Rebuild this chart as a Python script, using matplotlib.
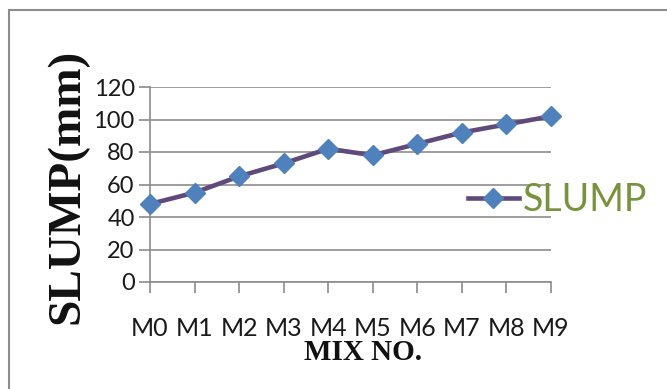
import matplotlib
matplotlib.use("Agg")
import matplotlib.pyplot as plt
from matplotlib.patches import Rectangle

categories = ["M0", "M1", "M2", "M3", "M4", "M5", "M6", "M7", "M8", "M9"]
slump = [48, 55, 65, 73, 82, 78, 85, 92, 97, 102]
yticks = [0, 20, 40, 60, 80, 100, 120]

W, H = 667, 389
fig = plt.figure(figsize=(W / 100, H / 100), dpi=100)
fig.patch.set_facecolor("white")

# outer chart frame
fig.patches.append(Rectangle((9 / W, -0.1), 1.2, 1 - 10 / H + 0.1, transform=fig.transFigure,
                             fill=False, edgecolor="#8c8c8c", linewidth=1.5))

ax = fig.add_axes([150 / W, 1 - 282 / H, (551 - 150) / W, (282 - 87) / H])
x = list(range(len(categories)))
line, = ax.plot(x, slump, color="#604A7B", linewidth=3.3, marker="D", markersize=10,
                markerfacecolor="#4F81BD", markeredgecolor="#4F81BD", label="SLUMP",
                clip_on=False, zorder=3)

ax.set_xlim(0, len(categories) - 1)
ax.set_ylim(0, 120)
ax.set_yticks(yticks)
ax.set_yticklabels([str(v) for v in yticks], fontsize=17, family="Lato", color="#1a1a1a")
ax.set_xticks(x)
ax.set_xticklabels(categories, fontsize=18, family="Lato", color="#1a1a1a")
ax.tick_params(axis="x", length=8, width=1.2, color="#8c8c8c", pad=17)
ax.tick_params(axis="y", length=8, width=1.2, color="#8c8c8c", pad=3)
for s in ["top", "right"]:
    ax.spines[s].set_visible(False)
for s in ["left", "bottom"]:
    ax.spines[s].set_color("#8c8c8c")
    ax.spines[s].set_linewidth(1.2)
ax.yaxis.grid(True, color="#8c8c8c", linewidth=1.2)
ax.set_axisbelow(True)

fig.text(67 / W, 1 - 186 / H, "SLUMP(mm)", rotation=90, ha="center", va="center",
         fontsize=34, fontweight="bold", family="Liberation Serif", color="#111111")
fig.text(363 / W, 1 - 352 / H, "MIX NO.", ha="center", va="center",
         fontsize=21, fontweight="bold", family="Liberation Serif", color="#111111")

leg = fig.legend(handles=[line], loc="center left", bbox_to_anchor=(468 / W, 1 - 200 / H),
                 frameon=False, borderpad=0, borderaxespad=0, handlelength=1.35,
                 handletextpad=0.1, prop={"family": "Lato", "size": 27})
for t in leg.get_texts():
    t.set_color("#77933C")

fig.savefig("out.png", dpi=100, facecolor="white")
